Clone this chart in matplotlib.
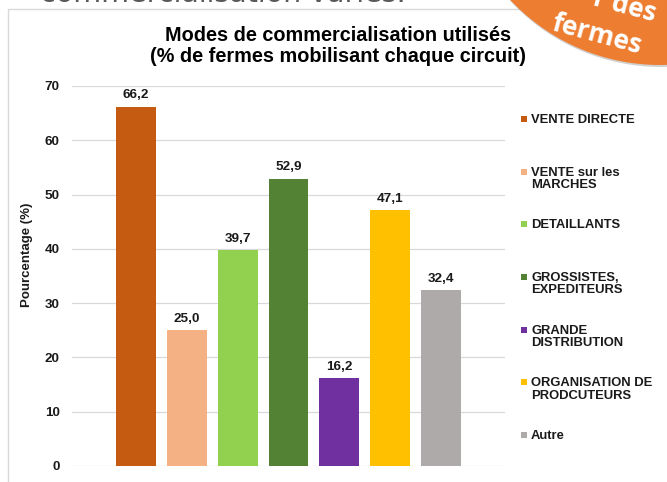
import matplotlib
matplotlib.use("Agg")
import matplotlib.pyplot as plt
from matplotlib.patches import Circle, Rectangle
from matplotlib.transforms import IdentityTransform

# ---------------- data ----------------
categories = ["VENTE DIRECTE", "VENTE sur les\nMARCHES", "DETAILLANTS",
              "GROSSISTES,\nEXPEDITEURS", "GRANDE\nDISTRIBUTION",
              "ORGANISATION DE\nPRODCUTEURS", "Autre"]
values = [66.2, 25.0, 39.7, 52.9, 16.2, 47.1, 32.4]
colors = ["#C55A11", "#F4B183", "#92D050", "#548235", "#7030A0", "#FFC000", "#AEAAAA"]
yticks = [0, 10, 20, 30, 40, 50, 60, 70]
title = "Modes de commercialisation utilisés\n(% de fermes mobilisant chaque circuit)"
ylabel = "Pourcentage (%)"

W, H = 667, 482
DPI = 100
plt.rcParams['font.family'] = ['Liberation Sans', 'DejaVu Sans']
fig = plt.figure(figsize=(W / DPI, H / DPI), dpi=DPI, facecolor="white")


def fx(x):
    return x / W


def fy(y):
    return 1 - y / H


# background slide elements
fig.text(fx(40), fy(2), "commercialisation variés.", fontsize=20.5, color="#595959",
         family="DejaVu Sans", ha="left", va="baseline", zorder=-2)
fig.patches.append(Rectangle((fx(8), -0.1), 1.2, fy(9) + 0.1, transform=fig.transFigure,
                             facecolor="white", edgecolor="#D9D9D9", lw=1.0, zorder=-1))

# axes
ax = fig.add_axes([fx(72), fy(466), fx(505) - fx(72), fy(86) - fy(466)])
ax.set_zorder(1)
ax.patch.set_alpha(0)
x = list(range(len(values)))
bars = ax.bar(x, values, width=0.787, color=colors, zorder=3)
ax.bar_label(bars, labels=[f"{v:.1f}".replace(".", ",") for v in values],
             padding=4, fontsize=9.7, fontweight="bold", color="#1a1a1a")
ax.set_xlim(3 - 4.262, 3 + 4.262)
ax.set_ylim(0, 70)
ax.set_yticks(yticks)
ax.set_yticklabels([str(t) for t in yticks], fontsize=9.7, fontweight="bold", color="#1a1a1a")
ax.set_xticks([])
ax.tick_params(axis="y", length=0, pad=9)
for s in ax.spines.values():
    s.set_visible(False)
ax.grid(axis="y", color="#D9D9D9", lw=0.9, zorder=0)
ax.set_axisbelow(True)
ax.set_ylabel(ylabel, fontsize=9.5, fontweight="bold", color="#1a1a1a")
ax.yaxis.set_label_coords((33 - 72) / 433, (466 - 255) / 380)

fig.text(fx(338), fy(26), title, ha="center", va="top", fontsize=14.3,
         fontweight="bold", color="#000000", linespacing=1.1)

# legend (entries evenly spaced by first line)
for i, (lab, c) in enumerate(zip(categories, colors)):
    yc = 119 + i * 52.67
    fig.patches.append(Rectangle((fx(521), fy(yc + 3)), fx(6), 6 / H,
                                 transform=fig.transFigure, facecolor=c, edgecolor="none"))
    fig.text(fx(531), fy(yc - 5), lab, ha="left", va="top", fontsize=9.4,
             fontweight="bold", color="#1a1a1a", linespacing=1.05)

# orange badge
badge_c = (660, H + 140)
shadow = Circle((badge_c[0] + 1, badge_c[1] - 2), 205, transform=IdentityTransform(),
                facecolor="#9a9a9a", alpha=0.45, edgecolor="none", zorder=5)
badge = Circle(badge_c, 205, transform=IdentityTransform(),
               facecolor="#ED7D31", edgecolor="none", zorder=6)
fig.patches.extend([shadow, badge])
fig.text(fx(597), fy(35), "fermes", ha="center", va="center", fontsize=19,
         family="Open Sans", fontweight="bold", color="white", rotation=-15, zorder=7)
fig.text(fx(625), fy(6), "r des", ha="center", va="center", fontsize=19,
         family="Open Sans", fontweight="bold", color="white", rotation=-15, zorder=7)

fig.savefig("out.png", dpi=DPI, facecolor="white")
